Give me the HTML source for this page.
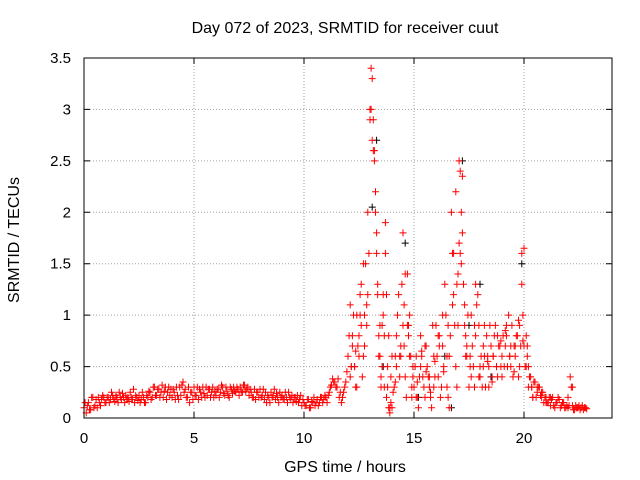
<!DOCTYPE html>
<html><head><meta charset="utf-8"><style>
html,body{margin:0;padding:0;background:#fff;}
svg{display:block;font-family:"Liberation Sans",sans-serif;}
</style></head><body>
<svg id="chart" width="640" height="480" viewBox="0 0 640 480">
<rect x="0" y="0" width="640" height="480" fill="#fff"/>
<text x="345" y="33" font-size="16" text-anchor="middle">Day 072 of 2023, SRMTID for receiver cuut</text>
<text x="345" y="472" font-size="16" text-anchor="middle">GPS time / hours</text>
<text x="19" y="240" font-size="16" text-anchor="middle" transform="rotate(-90 19 240)">SRMTID / TECUs</text>
<g id="grid"></g>
<g id="marks"></g>
<rect x="84" y="58" width="528" height="360" fill="none" stroke="#000" stroke-width="1"/>
<g id="axes"></g>
</svg>
<script>
const xTicks = [0, 5, 10, 15, 20];
const yTicks = [0, 0.5, 1, 1.5, 2, 2.5, 3, 3.5];
const yTickLabels = ["0", "0.5", "1", "1.5", "2", "2.5", "3", "3.5"];
const baseStart = 0;
const baseStep = 0.1;
const baseValues = [
0.1,0.05,0.15,0.08,0.2,0.12,0.1,0.15,0.18,0.2,
0.15,0.2,0.18,0.22,0.16,0.2,0.25,0.18,0.2,0.22,
0.2,0.25,0.18,0.15,0.2,0.22,0.18,0.2,0.15,0.2,
0.25,0.2,0.3,0.22,0.28,0.25,0.2,0.3,0.25,0.22,
0.2,0.25,0.3,0.18,0.22,0.35,0.28,0.2,0.15,0.25,
0.3,0.22,0.18,0.25,0.3,0.2,0.22,0.28,0.25,0.2,
0.22,0.28,0.25,0.3,0.22,0.26,0.2,0.28,0.3,0.25,
0.28,0.3,0.25,0.32,0.28,0.22,0.25,0.2,0.18,0.25,
0.28,0.22,0.18,0.15,0.2,0.25,0.22,0.18,0.2,0.25,
0.22,0.18,0.2,0.25,0.18,0.15,0.2,0.22,0.18,0.12,
0.15,0.12,0.18,0.1,0.15,0.12,0.18,0.15,0.2,0.18,
0.2,0.22,0.3,0.38,0.35,0.3,0.2,0.15,0.25,0.35,
0.6,1.1,0.7,0.5,0.3,0.8,1.3,0.6,1.5,1.2,
2.9,3.3,2.5,1.6,0.8,0.4,1.0,1.6,0.5,0.05,
0.1,0.3,0.8,1.2,0.6,0.9,0.4,1.4,1.0,0.2,
0.3,0.6,0.1,0.8,0.4,0.2,0.5,0.3,0.1,0.6,
0.9,0.4,0.2,0.7,1.3,0.6,0.1,2.0,1.2,0.5,
1.4,2.4,1.8,0.9,0.6,0.3,1.0,0.5,0.8,1.2,
0.4,0.3,0.6,0.8,0.5,0.7,0.6,0.9,0.4,0.7,
0.6,0.5,0.8,1.0,0.7,0.4,0.6,0.8,0.5,1.6,
0.7,0.5,0.3,0.4,0.2,0.35,0.25,0.3,0.2,0.15,
0.2,0.15,0.12,0.2,0.1,0.15,0.18,0.12,0.15,0.1,
0.1,0.4,0.12,0.08,0.1,0.12,0.1,0.08,0.1
];
const base2Start = 0.05;
const baseValues2 = [
0.15,0.12,0.08,0.2,0.1,0.18,0.2,0.12,0.22,0.15,
0.2,0.15,0.25,0.18,0.22,0.15,0.2,0.24,0.15,0.18,
0.16,0.2,0.28,0.22,0.17,0.15,0.25,0.15,0.22,0.26,
0.18,0.3,0.22,0.28,0.2,0.32,0.26,0.18,0.3,0.28,
0.28,0.18,0.22,0.3,0.32,0.25,0.2,0.3,0.25,0.18,
0.22,0.3,0.28,0.2,0.24,0.3,0.28,0.2,0.3,0.26,
0.28,0.2,0.32,0.24,0.3,0.22,0.3,0.24,0.26,0.3,
0.22,0.26,0.32,0.26,0.3,0.28,0.2,0.28,0.25,0.2,
0.2,0.28,0.25,0.22,0.15,0.2,0.28,0.24,0.15,0.2,
0.18,0.25,0.15,0.2,0.22,0.2,0.16,0.15,0.22,0.18,
0.12,0.18,0.1,0.16,0.2,0.15,0.12,0.2,0.15,0.22,
0.15,0.25,0.32,0.35,0.3,0.38,0.25,0.2,0.3,0.45,
0.8,0.5,1.0,0.3,0.7,1.2,0.4,1.0,0.9,1.6,
3.0,2.6,2.0,1.2,0.6,0.9,0.3,1.2,0.8,0.15,
0.25,0.6,1.0,0.4,1.3,0.7,0.2,0.9,0.6,0.4,
0.5,0.2,0.4,0.6,0.3,0.7,0.4,0.2,0.9,0.4,
0.6,0.8,0.3,0.5,1.0,0.2,0.8,1.6,0.9,0.3,
1.7,2.0,1.3,0.6,1.0,0.5,0.7,0.3,1.1,0.9,
0.6,0.5,0.3,0.6,0.9,0.4,0.8,0.5,0.7,0.5,
0.8,0.7,0.5,0.6,0.9,0.7,0.8,0.4,0.7,1.0,
0.5,0.7,0.4,0.3,0.35,0.2,0.3,0.22,0.25,0.2,
0.15,0.2,0.18,0.12,0.15,0.2,0.1,0.15,0.1,0.12,
0.12,0.3,0.08,0.12,0.1,0.08,0.12,0.1,0.09
];
const burstTimes = [12.1,12.2,12.3,12.4,12.5,12.6,12.7,12.9,13.0,13.05,13.1,13.15,13.2,13.25,13.3,13.35,13.4,13.5,13.6,13.7,13.8,13.9,14.0,14.2,14.4,14.5,14.6,14.7,14.8,14.9,15.1,15.3,15.5,15.7,15.9,16.1,16.3,16.5,16.6,16.8,16.9,17.0,17.05,17.1,17.2,17.3,17.4,17.6,17.8,18.0,18.2,18.4,18.6,18.8,19.0,19.2,19.4,19.6,19.8,19.9,20.0,20.1,20.2,20.4,20.6,20.8,21.0,21.2,22.0,22.2,22.4,
12.15,12.35,12.55,12.75,12.85,13.45,13.55,13.65,13.75,13.85,13.95,14.15,14.35,14.55,14.75,14.95,15.15,15.35,15.55,15.75,15.95,16.15,16.35,16.55,16.75,16.95,17.15,17.35,17.55,17.75,17.95,18.15,18.35,18.55,18.75,18.95,19.15,19.35,19.55,19.75,19.95,20.15,20.35];
const burstValues = [0.4,0.8,0.5,1.0,0.6,0.9,1.5,2.0,3.0,3.4,2.7,2.9,2.6,2.2,1.8,1.3,0.6,0.3,1.2,1.9,0.3,0.1,0.6,0.5,0.7,1.8,1.4,0.9,0.6,0.3,0.2,0.5,0.7,0.4,0.3,0.8,1.0,0.3,0.6,1.6,2.2,0.9,2.5,1.6,2.35,1.1,0.7,0.4,1.3,0.5,0.9,0.3,0.6,0.8,0.4,0.9,0.5,0.7,0.9,1.3,1.65,0.8,0.5,0.2,0.3,0.25,0.15,0.2,0.2,0.3,0.1,
0.5,0.65,1.0,0.7,1.1,0.9,0.5,0.8,0.2,0.1,0.4,0.35,0.6,1.1,0.8,0.5,0.35,0.65,0.45,0.25,0.55,0.7,0.45,0.9,1.1,1.3,1.5,0.8,0.6,0.9,0.4,0.7,0.55,0.35,0.5,0.75,0.85,0.6,0.45,0.95,0.75,0.6,0.3];
const blackTimes = [13.1,13.3,13.6,14.6,16.4,17.2,17.5,18.5,19.9,15.2,16.7,18.0];
const blackValues = [2.05,2.7,0.5,1.7,0.6,2.5,0.9,0.4,1.5,0.2,0.1,1.3];

const X0 = 84, X1 = 612, Y0 = 418, Y1 = 58;
const xScale = t => X0 + (t - 0) / 24 * (X1 - X0);
const yScale = v => Y0 - (v - 0) / 3.5 * (Y0 - Y1);
const NS = "http://www.w3.org/2000/svg";
const grid = document.getElementById("grid");
const axes = document.getElementById("axes");
const marks = document.getElementById("marks");
function mk(tag, attrs, parent) {
  const e = document.createElementNS(NS, tag);
  for (const k in attrs) e.setAttribute(k, attrs[k]);
  parent.appendChild(e);
  return e;
}
xTicks.forEach((t, i) => {
  const x = xScale(t);
  if (t > 0) {
    const g = mk("line", {x1: x, y1: Y0, x2: x, y2: Y1, stroke: "#a0a0a0", "stroke-dasharray": "1,2"}, grid);
    
    
  }
  const tk = mk("path", {d: `M${x},${Y0}v-6M${x},${Y1}v6`, stroke: "#000"}, axes);
  
  
  const lb = mk("text", {x: x, y: 443, "font-size": 15, "text-anchor": "middle"}, axes);
  lb.textContent = String(t);
  
  
});
yTicks.forEach((v, i) => {
  const y = yScale(v);
  if (v > 0 && v < 3.5) {
    const g = mk("line", {x1: X0, y1: y, x2: X1, y2: y, stroke: "#a0a0a0", "stroke-dasharray": "1,2"}, grid);
    
    
  }
  const tk = mk("path", {d: `M${X0},${y}h6M${X1},${y}h-6`, stroke: "#000"}, axes);
  
  
  const lb = mk("text", {x: 71, y: y + 5, "font-size": 15, "text-anchor": "end"}, axes);
  lb.textContent = yTickLabels[i];
  
  
});
function plus(t, v, color, name) {
  const x = xScale(t), y = yScale(v);
  const p = mk("path", {d: `M${x-3.5},${y}h7M${x},${y-3.5}v7`, stroke: color, "stroke-width": 1}, marks);
  
  
}
blackTimes.forEach((t, i) => plus(t, blackValues[i], "#000", "black-point"));
baseValues.forEach((v, i) => plus(baseStart + i * baseStep, v, "#ff0000", "red-point"));
baseValues2.forEach((v, i) => plus(base2Start + i * baseStep, v, "#ff0000", "red-point"));
burstTimes.forEach((t, i) => plus(t, burstValues[i], "#ff0000", "red-burst-point"));
</script>
</body></html>
